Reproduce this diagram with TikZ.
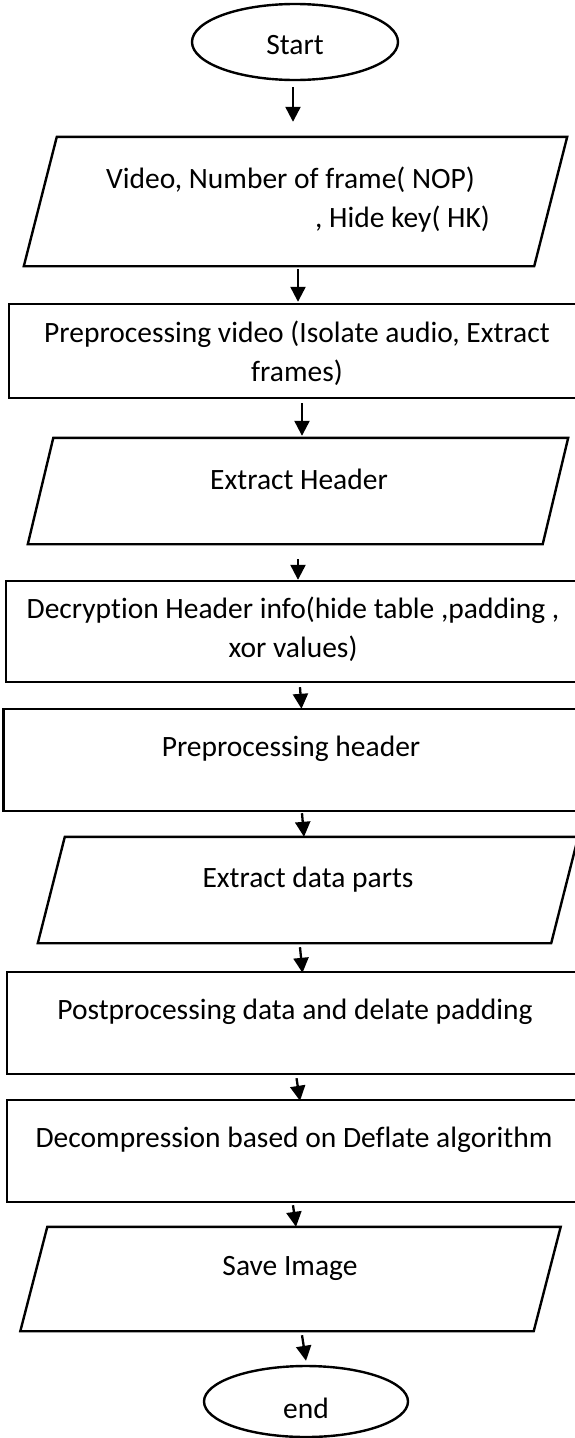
\documentclass[tikz,border=0pt]{standalone}
\usepackage{fontspec}
\setmainfont{Carlito}[Ligatures=CommonOff]
\usetikzlibrary{shapes.geometric,arrows.meta,calc}
\begin{document}
\begin{tikzpicture}[x=1pt,y=1pt,
  term/.style={ellipse,draw,line width=2.4pt,inner sep=0pt},
  procbox/.style={rectangle,draw,line width=2.4pt,inner sep=0pt},
  iobody/.style={rectangle,draw=none,inner sep=0pt},
  iopath/.style={line width=2.4pt,line join=miter},
  txt/.style={inner sep=0pt,font=\fontsize{29.5pt}{39pt}\selectfont},
  arr/.style={line width=2.3pt,-{Triangle[width=15pt,length=15pt]}}
]
\fill[white] (0,0) rectangle (575,-1438);
\useasboundingbox (0,0) rectangle (575,-1438);

% start
\node[term,minimum width=206pt,minimum height=76pt] (start) at (295,-42) {};
\node[txt] (tstart) at (295,-45) {Start};

% input 1
\node[iobody,minimum width=543pt,minimum height=129pt] (in1) at (295.5,-201.5) {};
\draw[iopath] ([xshift=33pt]in1.north west) -- (in1.north east) -- ([xshift=-33pt]in1.south east) -- (in1.south west) -- cycle;
\node[txt,anchor=west,align=left] (tin1) at (106,-200) {Video, Number of frame( NOP)\\\hspace*{209pt}, Hide key( HK)};

% rect 1
\node[procbox,minimum width=576pt,minimum height=94pt] (p1) at (297,-351) {};
\node[txt,align=center] (tp1) at (297,-353) {Preprocessing video (Isolate audio, Extract\\frames)};

% input 2
\node[iobody,minimum width=540pt,minimum height=106pt] (in2) at (298,-491) {};
\draw[iopath] ([xshift=25.5pt]in2.north west) -- (in2.north east) -- ([xshift=-25.5pt]in2.south east) -- (in2.south west) -- cycle;
\node[txt] (tin2) at (299,-479) {Extract Header};

% rect 2
\node[procbox,minimum width=574pt,minimum height=101pt] (p2) at (293,-631.5) {};
\node[txt,align=center] (tp2) at (293,-629) {Decryption Header info(hide table ,padding ,\\xor values)};

% rect 3
\node[procbox,minimum width=575pt,minimum height=102pt] (p3) at (291,-760) {};
\node[txt] (tp3) at (291,-749) {Preprocessing header};

% input 3
\node[iobody,minimum width=540pt,minimum height=106pt] (in3) at (308,-890) {};
\draw[iopath] ([xshift=27pt]in3.north west) -- (in3.north east) -- ([xshift=-27pt]in3.south east) -- (in3.south west) -- cycle;
\node[txt] (tin3) at (308,-880) {Extract data parts};

% rect 4
\node[procbox,minimum width=576pt,minimum height=102pt] (p4) at (295,-1023) {};
\node[txt] (tp4) at (295,-1012) {Postprocessing data and delate padding};

% rect 5
\node[procbox,minimum width=574pt,minimum height=102pt] (p5) at (294,-1151) {};
\node[txt] (tp5) at (294,-1140) {Decompression based on Deflate algorithm};

% input 4
\node[iobody,minimum width=540pt,minimum height=104pt] (in4) at (290.5,-1279) {};
\draw[iopath] ([xshift=27pt]in4.north west) -- (in4.north east) -- ([xshift=-27pt]in4.south east) -- (in4.south west) -- cycle;
\node[txt] (tin4) at (290,-1268) {Save Image};

% end
\node[term,minimum width=204pt,minimum height=71pt] (stop) at (306,-1401.5) {};
\node[txt] (tstop) at (306,-1408) {end};

% arrows
\draw[arr] ([shift={(-2,-6)}]start.south) -- ([shift={(-2.5,15)}]in1.north);
\draw[arr] ([shift={(2.5,-3)}]in1.south) -- ([shift={(1,1)}]p1.north);
\draw[arr] ([shift={(5,-4)}]p1.south) -- ([shift={(4,2)}]in2.north);
\draw[arr] ([shift={(0,-15)}]in2.south) -- ([shift={(5,0)}]p2.north);
\draw[arr] ([shift={(7,-4)}]p2.south) -- ([shift={(10.5,-1)}]p3.north);
\draw[arr] ([shift={(11,-1)}]p3.south) -- ([shift={(-4,0)}]in3.north);
\draw[arr] ([shift={(-8,-4)}]in3.south) -- ([shift={(7.5,-2)}]p4.north);
\draw[arr] ([shift={(1.5,-3)}]p4.south) -- ([shift={(6,-2)}]p5.north);
\draw[arr] ([shift={(-1,-2)}]p5.south) -- ([shift={(5.5,0)}]in4.north);
\draw[arr] ([shift={(11.5,-4)}]in4.south) -- ([shift={(0,4)}]stop.north);
\end{tikzpicture}
\end{document}
